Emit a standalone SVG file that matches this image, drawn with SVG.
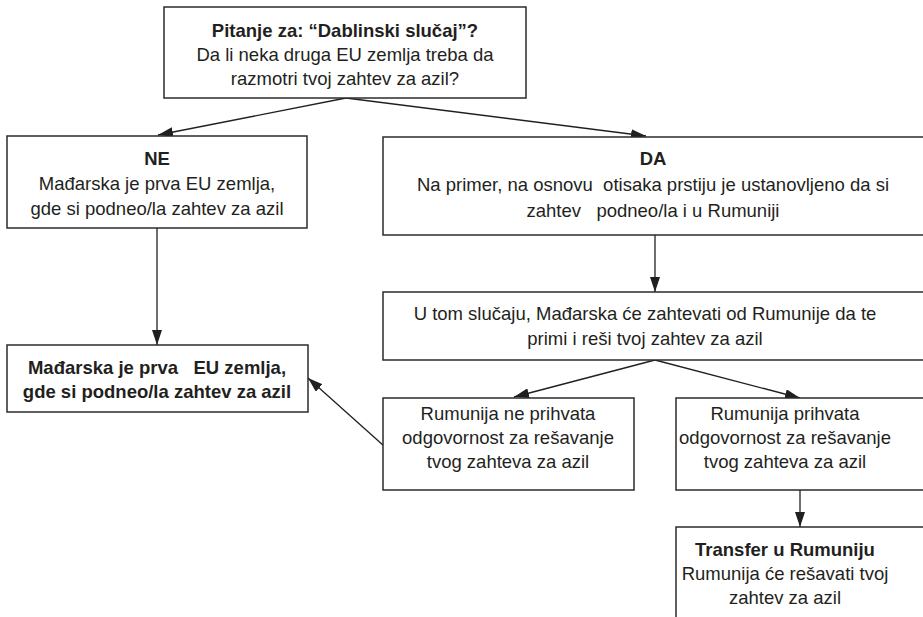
<svg xmlns="http://www.w3.org/2000/svg" width="923" height="617" viewBox="0 0 923 617">
<style>
.box{fill:#fff;stroke:#2b2b2b;stroke-width:1.5}
text{font-family:"Liberation Sans",Arial,sans-serif;font-size:18.5px;fill:#231f20;text-anchor:middle;white-space:pre}
.b{font-weight:bold}
.ln{stroke:#231f20;stroke-width:1.3;fill:none;marker-end:url(#ah)}
</style>
<defs>
<marker id="ah" viewBox="0 0 15 10" refX="15" refY="5" markerWidth="15" markerHeight="10" markerUnits="userSpaceOnUse" orient="auto">
<path d="M0,0 L15,5 L0,10 z" fill="#231f20"/>
</marker>
</defs>
<rect width="923" height="617" fill="#fff"/>
<g id="connectors">
<line class="ln" x1="346" y1="98" x2="158" y2="135"/>
<line class="ln" x1="346" y1="98" x2="646" y2="136"/>
<line class="ln" x1="157" y1="228" x2="157" y2="345"/>
<line class="ln" x1="655" y1="235" x2="655" y2="292"/>
<line class="ln" x1="655" y1="360" x2="514" y2="397"/>
<line class="ln" x1="655" y1="360" x2="800" y2="398"/>
<line class="ln" x1="384" y1="446" x2="308" y2="378"/>
<line class="ln" x1="800" y1="490" x2="800" y2="527"/>
</g>
<g id="n-top">
<rect class="box" x="164" y="7" width="362" height="91"/>
<text class="b" x="345" y="37">Pitanje za: “Dablinski slučaj”?</text>
<text x="345" y="61">Da li neka druga EU zemlja treba da</text>
<text x="345" y="85">razmotri tvoj zahtev za azil?</text>
</g>
<g id="n-ne">
<rect class="box" x="7" y="136" width="300" height="92"/>
<text class="b" x="157" y="165">NE</text>
<text x="157" y="190">Mađarska je prva EU zemlja,</text>
<text x="157" y="215">gde si podneo/la zahtev za azil</text>
</g>
<g id="n-da">
<rect class="box" x="383" y="137" width="550" height="98"/>
<text class="b" x="653" y="165">DA</text>
<text x="653" y="191">Na primer, na osnovu  otisaka prstiju je ustanovljeno da si</text>
<text x="653" y="217">zahtev   podneo/la i u Rumuniji</text>
</g>
<g id="n-hu">
<rect class="box" x="7" y="345" width="301" height="67"/>
<text class="b" x="157" y="374">Mađarska je prva   EU zemlja,</text>
<text class="b" x="157" y="398">gde si podneo/la zahtev za azil</text>
</g>
<g id="n-request">
<rect class="box" x="383" y="292" width="550" height="68"/>
<text x="645" y="320">U tom slučaju, Mađarska će zahtevati od Rumunije da te</text>
<text x="645" y="345">primi i reši tvoj zahtev za azil</text>
</g>
<g id="n-reject">
<rect class="box" x="383" y="398" width="251" height="92"/>
<text x="508" y="420">Rumunija ne prihvata</text>
<text x="508" y="444">odgovornost za rešavanje</text>
<text x="508" y="468">tvog zahteva za azil</text>
</g>
<g id="n-accept">
<rect class="box" x="676" y="398" width="260" height="92"/>
<text x="785" y="420">Rumunija prihvata</text>
<text x="785" y="444">odgovornost za rešavanje</text>
<text x="785" y="468">tvog zahteva za azil</text>
</g>
<g id="n-transfer">
<rect class="box" x="676" y="527" width="260" height="110"/>
<text class="b" x="785" y="556">Transfer u Rumuniju</text>
<text x="785" y="580">Rumunija će rešavati tvoj</text>
<text x="785" y="604">zahtev za azil</text>
</g>
</svg>
